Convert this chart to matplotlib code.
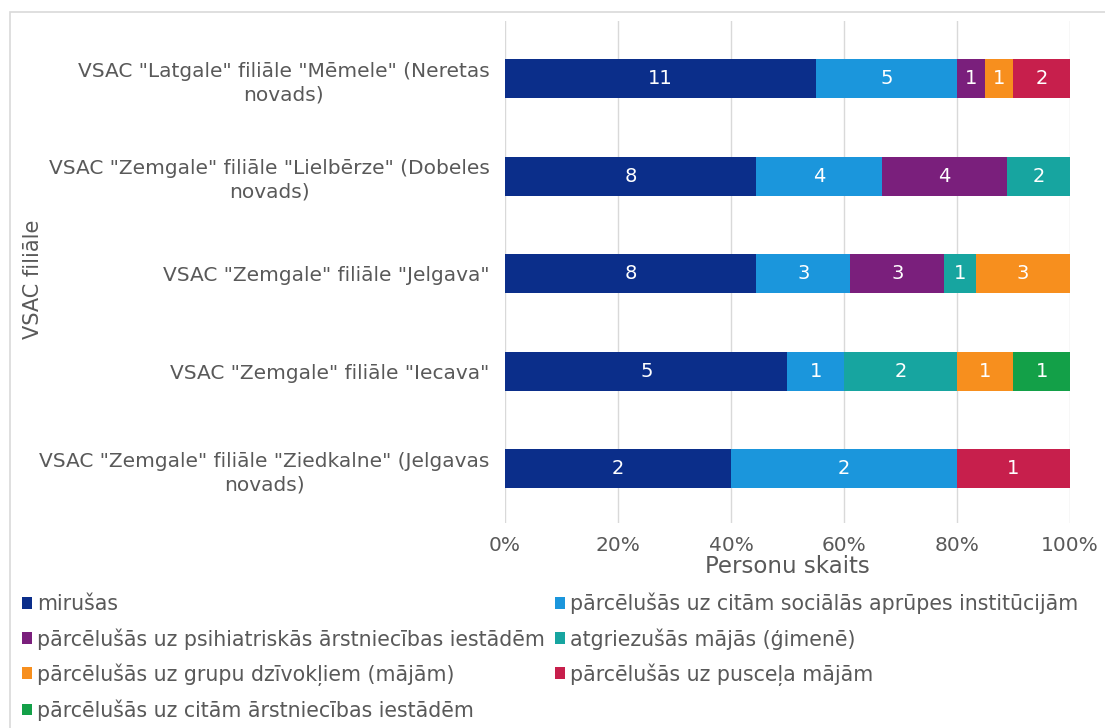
import matplotlib
matplotlib.use("Agg")
import matplotlib.pyplot as plt
import numpy as np
from matplotlib.patches import Rectangle

plt.rcParams['font.family'] = ['DejaVu Sans']

categories = [
    'VSAC "Latgale" filiāle "Mēmele" (Neretas\nnovads)',
    'VSAC "Zemgale" filiāle "Lielbērze" (Dobeles\nnovads)',
    'VSAC "Zemgale" filiāle "Jelgava"',
    'VSAC "Zemgale" filiāle "Iecava"',
    'VSAC "Zemgale" filiāle "Ziedkalne" (Jelgavas\nnovads)',
]
series_names = [
    'mirušas',
    'pārcēlušās uz citām sociālās aprūpes institūcijām',
    'pārcēlušās uz psihiatriskās ārstniecības iestādēm',
    'atgriezušās mājās (ģimenē)',
    'pārcēlušās uz grupu dzīvokļiem (mājām)',
    'pārcēlušās uz pusceļa mājām',
    'pārcēlušās uz citām ārstniecības iestādēm',
]
mirusas = [11, 8, 8, 5, 2]
soc_aprupe = [5, 4, 3, 1, 2]
psihiatr = [1, 4, 3, 0, 0]
atgriez = [0, 2, 1, 2, 0]
grupu = [1, 0, 3, 1, 0]
puscela = [2, 0, 0, 0, 1]
arstn = [0, 0, 0, 1, 0]
xticks = [0, 20, 40, 60, 80, 100]

colors = ['#0b2e8a', '#1b96dc', '#7a1f7c', '#17a5a0', '#f78f1e', '#c71f4c', '#13a048']

data = np.array([mirusas, soc_aprupe, psihiatr, atgriez, grupu, puscela, arstn], dtype=float)
totals = data.sum(axis=0)
pct = data / totals * 100

W, H = 1105, 728
fig = plt.figure(figsize=(W / 100, H / 100), dpi=100)
ax_top, ax_bot = 20.5, 522.6
ax = fig.add_axes([505 / W, 1 - ax_bot / H, (1070 - 505) / W, (ax_bot - ax_top) / H])

y = np.arange(len(categories))
left = np.zeros(len(categories))
handles = []
for i, name in enumerate(series_names):
    b = ax.barh(y, pct[i], left=left, height=0.4, color=colors[i], label=name, zorder=3)
    handles.append(b)
    for j in range(len(categories)):
        if data[i, j] > 0:
            ax.text(left[j] + pct[i, j] / 2, y[j], f"{int(data[i, j])}", ha='center', va='center',
                    color='white', fontsize=14, zorder=4)
    left += pct[i]

ax.set_ylim(4.55, -0.6)
ax.set_xlim(0, 100)
ax.set_yticks(y)
ax.set_yticklabels(categories, fontsize=14.5, color='#595959', ha='right', multialignment='center',
                   linespacing=1.3)
ax.tick_params(axis='y', pad=11, length=0)
ax.set_xticks(xticks)
ax.set_xticklabels([f"{v}%" for v in xticks], fontsize=14.5, color='#595959')
ax.tick_params(axis='x', length=0, pad=10)
for s in ax.spines.values():
    s.set_visible(False)
ax.grid(axis='x', color='#d9d9d9', linewidth=1, zorder=0)
ax.set_axisbelow(True)
ax.set_xlabel('Personu skaits', fontsize=16.5, color='#595959', labelpad=0)
fig.text(33 / W, 1 - 279 / H, 'VSAC filiāle', rotation=90, ha='center', va='center',
         fontsize=15, color='#595959')

order = [0, 2, 4, 6, 1, 3, 5]
leg = fig.legend([handles[k] for k in order], [series_names[k] for k in order],
                 ncol=2, loc='upper left', bbox_to_anchor=(22 / W, 1 - 593 / H),
                 frameon=False, fontsize=14.8, handlelength=0.5, handleheight=0.5,
                 handletextpad=0.25, columnspacing=0.45, labelspacing=0.66,
                 borderaxespad=0, borderpad=0)
for t in leg.get_texts():
    t.set_color('#595959')

fig.patches.append(Rectangle((10 / W, -0.1), 1.2, 1 - 12 / H + 0.1, transform=fig.transFigure,
                             fill=False, edgecolor='#d9d9d9', linewidth=1.2))

fig.savefig('out.png', dpi=100, facecolor='white')
